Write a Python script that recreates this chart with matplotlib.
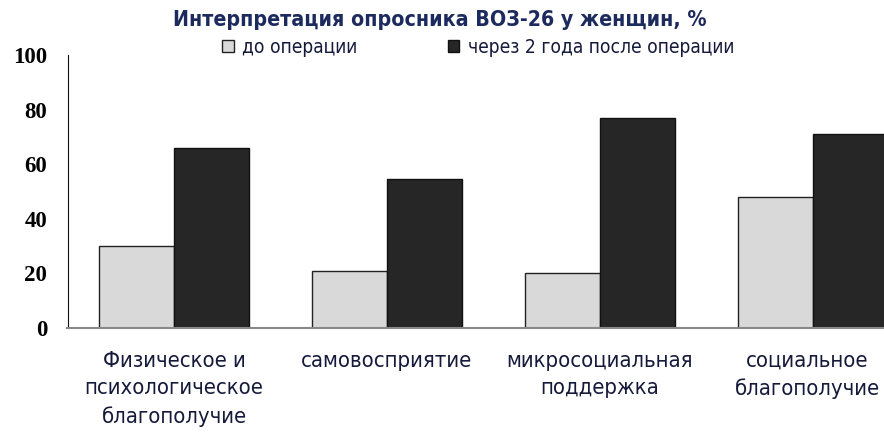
import matplotlib
matplotlib.use("Agg")
import matplotlib.pyplot as plt
import matplotlib.transforms as mtransforms
from matplotlib import font_manager as fm
import numpy as np

categories = ["Физическое и\nпсихологическое\nблагополучие", "самовосприятие",
              "микросоциальная\nподдержка", "социальное\nблагополучие"]
series_names = ["до операции", "через 2 года после операции"]
before = [30, 21, 20, 48]
after = [66, 54.5, 77, 71]
yticks = [0, 20, 40, 60, 80, 100]

# pick a condensed sans font if one is available
fonts = fm.fontManager.ttflist
names = {f.name for f in fonts}
if "Liberation Sans Narrow" in names:
    NFAM, NSTRETCH, SCALE = ["Liberation Sans Narrow", "DejaVu Sans"], "normal", 1.0
elif any(f.name == "DejaVu Sans" and f.stretch in ("condensed", "semi-condensed", 87.5, 75)
         for f in fonts):
    NFAM, NSTRETCH, SCALE = ["DejaVu Sans"], "condensed", 0.9
else:
    NFAM, NSTRETCH, SCALE = ["Liberation Sans", "DejaVu Sans"], "normal", 0.88

fig = plt.figure(figsize=(8.84, 4.42), dpi=100)
ax = fig.add_axes([67.5/884, 114/442, 852/884, 273/442])

x = np.arange(len(categories))
w = 0.352
ax.bar(x - w/2, before, w, color="#d9d9d9", edgecolor="#222222", linewidth=1.0,
       label=series_names[0])
ax.bar(x + w/2, after, w, color="#262626", edgecolor="#111111", linewidth=1.0,
       label=series_names[1])

ax.set_xlim(-0.5, len(categories) - 0.5)
ax.set_ylim(0, 100)
ax.set_yticks(yticks)
ax.set_yticklabels([str(t) for t in yticks], fontfamily="Liberation Serif",
                   fontweight="bold", fontsize=16.5)
ax.tick_params(axis="y", length=0, pad=14.5)
ax.tick_params(axis="x", length=0, pad=16.5)
ax.set_xticks(x)
ax.set_xticklabels(categories, fontfamily=NFAM, fontstretch=NSTRETCH,
                   fontsize=17.6 * SCALE, linespacing=1.47, va="top", color="#15193a")
# nudge the last label slightly left so it stays inside the figure
last = ax.get_xticklabels()[-1]
last.set_transform(last.get_transform() +
                   mtransforms.ScaledTranslation(-6/100, 0, fig.dpi_scale_trans))
for s in ["top", "right"]:
    ax.spines[s].set_visible(False)
ax.spines["left"].set_color("#111111")
ax.spines["bottom"].set_color("#888888")
ax.spines["bottom"].set_linewidth(1.5)

fig.text(0.497, 0.955, "Интерпретация опросника ВОЗ-26 у женщин, %", ha="center",
         va="center", fontfamily=NFAM, fontstretch=NSTRETCH, fontweight="bold",
         fontsize=17 * SCALE, color="#1c2a5e")

leg = fig.legend(loc="center left", bbox_to_anchor=(222/884, 0.893), ncol=2, frameon=False,
                 prop={"family": NFAM, "stretch": NSTRETCH, "size": 15.3 * SCALE},
                 handlelength=0.62, handleheight=0.62, handletextpad=0.45,
                 columnspacing=4.7, borderpad=0, borderaxespad=0,
                 labelcolor="#15193a")

fig.savefig("out.png", dpi=100)
